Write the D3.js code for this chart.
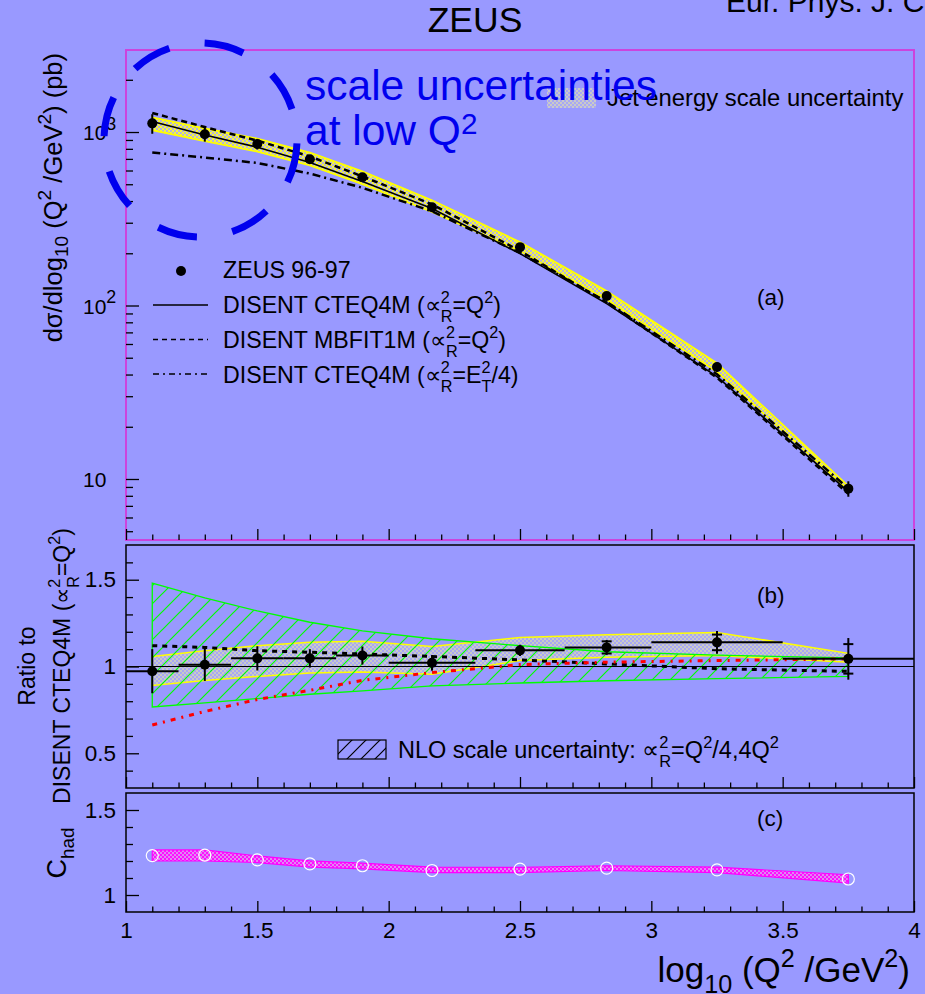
<!DOCTYPE html>
<html lang="en">
<head>
<meta charset="UTF-8">
<title>ZEUS dijet cross section vs Q2</title>
<script src="https://cdn.jsdelivr.net/npm/d3@7"></script>
<style>
  body { margin: 0; background: #9999ff; }
  svg { display: block; font-family: "Liberation Sans", Arial, Helvetica, sans-serif; }
</style>
</head>
<body>
<div id="chart"></div>
<script>
// bin centres and bin edges in log10(Q^2/GeV^2)
var xBins = [1.1, 1.3, 1.5, 1.7, 1.9, 2.165, 2.5, 2.83, 3.25, 3.75];
var binLo = [1.0, 1.2, 1.4, 1.6, 1.8, 2.0, 2.33, 2.67, 3.0, 3.5];
var binHi = [1.2, 1.4, 1.6, 1.8, 2.0, 2.33, 2.67, 3.0, 3.5, 4.0];

// (a) cross section, pb
var zeusSigma = [1122, 970, 853, 697, 548, 368, 217, 113.5, 44.2, 8.8];
var zeusSigmaErr = [145, 90, 60, 37, 29, 16, 7, 4.5, 2.7, 0.9];
var disentCteq = [1150, 962, 818, 668, 518, 362, 199, 102.5, 38.9, 8.45];
var disentMbfit = [1288, 1068, 892, 723, 555, 383, 206.6, 104, 38.4, 8.21];
var disentCteqEt = [762, 713, 663, 576, 477, 349, 201, 105, 40.2, 8.82];
var jesUp = [1216, 1050, 916, 761, 593, 404, 232, 121, 46.5, 9.1];
var jesDown = [1025, 885, 771, 643, 501, 346, 206, 108, 41.4, 8.66];

// (b) ratio to DISENT CTEQ4M (mu_R^2 = Q^2)
var ratioZeus = [0.973, 1.01, 1.047, 1.047, 1.063, 1.021, 1.093, 1.11, 1.139, 1.044];
var ratioErr = [0.127, 0.093, 0.07, 0.053, 0.052, 0.045, 0.033, 0.043, 0.065, 0.12];
var ratioStat = [0, 0, 0, 0, 0, 0, 0, 0.035, 0.045, 0.085];
var ratioMbfit = [1.12, 1.11, 1.091, 1.082, 1.072, 1.058, 1.038, 1.015, 0.987, 0.972];
var ratioEt = [0.663, 0.741, 0.81, 0.863, 0.92, 0.965, 1.011, 1.025, 1.034, 1.044];
var nloUp = [1.48, 1.395, 1.32, 1.255, 1.205, 1.16, 1.12, 1.085, 1.065, 1.05];
var nloDown = [0.767, 0.79, 0.815, 0.84, 0.86, 0.888, 0.905, 0.918, 0.93, 0.943];
var jesRatioUp = [1.057, 1.091, 1.12, 1.139, 1.145, 1.115, 1.167, 1.183, 1.196, 1.076];
var jesRatioDown = [0.891, 0.92, 0.943, 0.962, 0.968, 0.955, 1.034, 1.053, 1.063, 1.025];

// (c) hadronisation correction
var cHad = [1.232, 1.235, 1.207, 1.183, 1.172, 1.144, 1.152, 1.158, 1.148, 1.094];
var cHadUp = [1.265, 1.265, 1.23, 1.201, 1.187, 1.164, 1.162, 1.172, 1.164, 1.119];
var cHadDown = [1.2, 1.2, 1.191, 1.164, 1.154, 1.132, 1.132, 1.144, 1.132, 1.07];

// axis ticks
var xMajor = [1, 1.5, 2, 2.5, 3, 3.5, 4];
var yMajorA = [10, 100, 1000];
var yLabelA = ['10', '10|2', '10|3'];
var yMajorB = [0.5, 1, 1.5];
var yMajorC = [1, 1.5];

var width = 925, height = 994;
var X0 = 126, X1 = 914;

var svg = d3.select('#chart').append('svg')
    .attr('width', width)
    .attr('height', height);

svg.append('rect').attr('width', width).attr('height', height).attr('fill', '#9999ff');

var defs = svg.append('defs');

function checker(id, base, dot, size) {
    var p = defs.append('pattern').attr('id', id)
        .attr('patternUnits', 'userSpaceOnUse')
        .attr('width', size * 2).attr('height', size * 2);
    p.append('rect').attr('width', size * 2).attr('height', size * 2).attr('fill', base);
    p.append('rect').attr('width', size).attr('height', size).attr('fill', dot);
    p.append('rect').attr('x', size).attr('y', size).attr('width', size).attr('height', size).attr('fill', dot);
}
checker('chkYellow', '#f8f838', '#b4b4e0', 2);
checker('chkGrey', '#cacac8', '#a8a8f4', 2);
checker('chkMag', '#ff10ff', '#e088f4', 2);

function hatch(id, colour, step) {
    defs.append('pattern').attr('id', id)
        .attr('patternUnits', 'userSpaceOnUse')
        .attr('width', step).attr('height', step)
        .append('path')
        .attr('d', 'M-2,2 L2,-2 M0,' + step + ' L' + step + ',0 M' + (step - 2) + ',' + (step + 2) + ' L' + (step + 2) + ',' + (step - 2))
        .attr('stroke', colour)
        .attr('stroke-width', 1.2);
}
hatch('hatchGreen', '#00ff00', 18);
hatch('hatchBlack', '#000', 14);

var x = d3.scaleLinear().domain([1, 4]).range([X0, X1]);
var yA = d3.scaleLog().domain([4.45, 2970]).range([540, 50]);
var yB = d3.scaleLinear().domain([0.3, 1.7]).range([788, 545]);
var yC = d3.scaleLinear().domain([0.9, 1.6]).range([912, 793]);

// text with sub / superscripts; parts: [text] | [text,'sup'] | [text,'sub'] | [[sup,sub],'stack']
function rich(txt, parts, fs, o) {
    o = Object.assign({ sc: 0.7, up: 0.42, dn: 0.25, sw: 0.39 }, o || {});
    var off = 0;
    parts.forEach(function (p) {
        var s = p[0], m = p[1];
        if (!m) {
            txt.append('tspan').attr('dy', -off).style('font-size', fs + 'px').text(s);
            off = 0;
        } else if (m === 'sup' || m === 'sub') {
            var d = m === 'sup' ? -o.up * fs : o.dn * fs;
            txt.append('tspan').attr('dy', d - off).style('font-size', o.sc * fs + 'px').text(s);
            off = d;
        } else {
            var u = -o.up * fs, b = (o.dn + 0.12) * fs;
            txt.append('tspan').attr('dy', u - off).style('font-size', o.sc * fs + 'px').text(s[0]);
            txt.append('tspan').attr('dx', -o.sw * fs).attr('dy', b - u).style('font-size', o.sc * fs + 'px').text(s[1]);
            off = b;
        }
    });
    return txt;
}

function minorsOf(lo, hi, step, majors) {
    return d3.range(lo, hi + step / 2, step)
        .map(function (v) { return +v.toFixed(4); })
        .filter(function (v) { return majors.indexOf(v) < 0; });
}

function leftAxis(scale, majors, minors, fmt) {
    var g = svg.append('g').attr('transform', 'translate(' + X0 + ',0)').attr('color', '#000');
    g.append('g').call(d3.axisLeft(scale).tickValues(minors).tickSize(-7).tickFormat(''));
    g.append('g').call(d3.axisLeft(scale).tickValues(majors).tickSize(-13).tickPadding(10).tickFormat(fmt));
    g.selectAll('.domain').remove();
    g.selectAll('line').attr('stroke-width', 1.3);
    g.selectAll('text').attr('font-size', 22.5).attr('font-family', null);
    return g;
}

function bottomAxis(yPos, labels) {
    var g = svg.append('g').attr('transform', 'translate(0,' + yPos + ')').attr('color', '#000');
    g.append('g').call(d3.axisBottom(x).tickValues(minorsOf(1, 4, 0.1, xMajor)).tickSize(-5.5).tickFormat(''));
    g.append('g').call(d3.axisBottom(x).tickValues(xMajor).tickSize(-11).tickPadding(10)
        .tickFormat(labels ? d3.format('~g') : ''));
    g.selectAll('.domain').remove();
    g.selectAll('line').attr('stroke-width', 1.3);
    g.selectAll('text').attr('font-size', 22.5).attr('font-family', null);
    return g;
}

var lineOf = function (scale) {
    return d3.line().x(function (d, i) { return x(xBins[i]); }).y(function (d) { return scale(d); });
};
var areaOf = function (scale, lo) {
    return d3.area()
        .x(function (d, i) { return x(xBins[i]); })
        .y0(function (d, i) { return scale(lo[i]); })
        .y1(function (d) { return scale(d); });
};

// ---------- panel (a) ----------
var pa = svg.append('g');
pa.append('path').datum(jesUp)
    .attr('d', areaOf(yA, jesDown))
    .attr('fill', 'url(#chkYellow)')
    .attr('stroke', '#ffff00').attr('stroke-width', 1.8);

pa.append('path').datum(disentCteqEt).attr('d', lineOf(yA))
    .attr('fill', 'none').attr('stroke', '#000').attr('stroke-width', 2.5).attr('stroke-dasharray', '8,4,2,4');
pa.append('path').datum(disentMbfit).attr('d', lineOf(yA))
    .attr('fill', 'none').attr('stroke', '#000').attr('stroke-width', 2.5).attr('stroke-dasharray', '6,4');
pa.append('path').datum(disentCteq).attr('d', lineOf(yA))
    .attr('fill', 'none').attr('stroke', '#000').attr('stroke-width', 1.6);

pa.selectAll('.errA').data(zeusSigma).enter().append('line')
    .attr('x1', function (d, i) { return x(xBins[i]); })
    .attr('x2', function (d, i) { return x(xBins[i]); })
    .attr('y1', function (d, i) { return yA(d + zeusSigmaErr[i]); })
    .attr('y2', function (d, i) { return yA(d - zeusSigmaErr[i]); })
    .attr('stroke', '#000').attr('stroke-width', 2);
pa.selectAll('.ptA').data(zeusSigma).enter().append('circle')
    .attr('cx', function (d, i) { return x(xBins[i]); })
    .attr('cy', function (d) { return yA(d); })
    .attr('r', 5).attr('fill', '#000');

pa.append('rect').attr('x', X0).attr('y', 50).attr('width', X1 - X0).attr('height', 490)
    .attr('fill', 'none').attr('stroke', '#cc44dd').attr('stroke-width', 2);

var minorA = [];
[1, 10, 100, 1000].forEach(function (dec) {
    d3.range(2, 10).forEach(function (k) {
        var v = k * dec;
        if (v > 4.45 && v < 2970) minorA.push(v);
    });
});
leftAxis(yA, yMajorA, minorA, function () { return ''; });
yMajorA.forEach(function (v, i) {
    var parts = yLabelA[i].split('|');
    var t = svg.append('text').attr('x', 83).attr('y', yA(v) + 8).attr('font-size', 21);
    var segs = [[parts[0]]];
    if (parts[1]) segs.push([parts[1], 'sup']);
    rich(t, segs, 21, { sc: 0.85, up: 0.48 });
});
bottomAxis(540, false);

// legend (a)
var legA = svg.append('g');
legA.append('circle').attr('cx', 181).attr('cy', 271).attr('r', 5).attr('fill', '#000');
legA.append('line').attr('x1', 153).attr('x2', 208).attr('y1', 305).attr('y2', 305)
    .attr('stroke', '#000').attr('stroke-width', 1.6);
legA.append('line').attr('x1', 153).attr('x2', 208).attr('y1', 339.5).attr('y2', 339.5)
    .attr('stroke', '#000').attr('stroke-width', 1.6).attr('stroke-dasharray', '5,4');
legA.append('line').attr('x1', 153).attr('x2', 208).attr('y1', 374).attr('y2', 374)
    .attr('stroke', '#000').attr('stroke-width', 1.6).attr('stroke-dasharray', '6,4,2,4');

var legTexts = [
    [['ZEUS 96-97']],
    [['DISENT CTEQ4M ('], ['\u221d'], [['2', 'R'], 'stack'], ['=Q'], ['2', 'sup'], [')']],
    [['DISENT MBFIT1M ('], ['\u221d'], [['2', 'R'], 'stack'], ['=Q'], ['2', 'sup'], [')']],
    [['DISENT CTEQ4M ('], ['\u221d'], [['2', 'R'], 'stack'], ['=E'], [['2', 'T'], 'stack'], ['/4)']]
];
legTexts.forEach(function (parts, i) {
    var t = legA.append('text').attr('x', 223).attr('y', 278 + i * 35);
    rich(t, parts, 23.2);
});

legA.append('rect').attr('x', 547).attr('y', 88).attr('width', 49).attr('height', 20)
    .attr('fill', 'url(#chkGrey)');
legA.append('text').attr('x', 607).attr('y', 106).style('font-size', '23.8px')
    .text('Jet energy scale uncertainty');

svg.append('text').attr('x', 757).attr('y', 305).style('font-size', '22.5px').text('(a)');

var tA = svg.append('text').attr('text-anchor', 'end')
    .attr('transform', 'translate(62,53) rotate(-90)');
rich(tA, [['d\u03c3/dlog'], ['10', 'sub'], [' (Q'], ['2', 'sup'], [' /GeV'], ['2', 'sup'], [') (pb)']], 25.5, { sc: 0.75 });

// ---------- panel (b) ----------
var pb = svg.append('g');
pb.append('path').datum(jesRatioUp)
    .attr('d', areaOf(yB, jesRatioDown))
    .attr('fill', 'url(#chkGrey)')
    .attr('stroke', '#ffff00').attr('stroke-width', 1.5);
pb.append('path').datum(nloUp)
    .attr('d', areaOf(yB, nloDown))
    .attr('fill', 'url(#hatchGreen)')
    .attr('stroke', '#00ff00').attr('stroke-width', 1.3);

pb.append('line').attr('x1', X0).attr('x2', X1).attr('y1', yB(1)).attr('y2', yB(1))
    .attr('stroke', '#000').attr('stroke-width', 1.2);
pb.append('path').datum(ratioMbfit).attr('d', lineOf(yB))
    .attr('fill', 'none').attr('stroke', '#000').attr('stroke-width', 3).attr('stroke-dasharray', '5,5');
pb.append('path').datum(ratioEt).attr('d', lineOf(yB))
    .attr('fill', 'none').attr('stroke', '#ff0000').attr('stroke-width', 3).attr('stroke-dasharray', '5,6,2,6');

pb.selectAll('.hb').data(ratioZeus).enter().append('line')
    .attr('x1', function (d, i) { return x(binLo[i]); })
    .attr('x2', function (d, i) { return x(binHi[i]); })
    .attr('y1', function (d) { return yB(d); })
    .attr('y2', function (d) { return yB(d); })
    .attr('stroke', '#000').attr('stroke-width', 2);
pb.selectAll('.vb').data(ratioZeus).enter().append('line')
    .attr('x1', function (d, i) { return x(xBins[i]); })
    .attr('x2', function (d, i) { return x(xBins[i]); })
    .attr('y1', function (d, i) { return yB(d + ratioErr[i]); })
    .attr('y2', function (d, i) { return yB(d - ratioErr[i]); })
    .attr('stroke', '#000').attr('stroke-width', 2);
ratioZeus.forEach(function (d, i) {
    if (!ratioStat[i]) return;
    [d + ratioStat[i], d - ratioStat[i]].forEach(function (v) {
        pb.append('line').attr('x1', x(xBins[i]) - 5).attr('x2', x(xBins[i]) + 5)
            .attr('y1', yB(v)).attr('y2', yB(v)).attr('stroke', '#000').attr('stroke-width', 2);
    });
});
pb.selectAll('.pb').data(ratioZeus).enter().append('circle')
    .attr('cx', function (d, i) { return x(xBins[i]); })
    .attr('cy', function (d) { return yB(d); })
    .attr('r', 5).attr('fill', '#000');

pb.append('rect').attr('x', X0).attr('y', 545).attr('width', X1 - X0).attr('height', 243)
    .attr('fill', 'none').attr('stroke', '#000').attr('stroke-width', 1.5);
leftAxis(yB, yMajorB, minorsOf(0.4, 1.6, 0.1, yMajorB), d3.format('~g'));
bottomAxis(788, false);

svg.append('rect').attr('x', 338).attr('y', 740).attr('width', 48).attr('height', 19)
    .attr('fill', 'url(#hatchBlack)').attr('stroke', '#000').attr('stroke-width', 1.2);
rich(svg.append('text').attr('x', 398).attr('y', 758),
    [['NLO scale uncertainty: \u221d'], [['2', 'R'], 'stack'], ['=Q'], ['2', 'sup'], ['/4,4Q'], ['2', 'sup']], 23.5);
svg.append('text').attr('x', 757).attr('y', 603).style('font-size', '22.5px').text('(b)');

svg.append('text').attr('text-anchor', 'middle')
    .attr('transform', 'translate(35,666) rotate(-90)')
    .style('font-size', '23px').text('Ratio to');
rich(svg.append('text').attr('text-anchor', 'middle').attr('transform', 'translate(70,666) rotate(-90)'),
    [['DISENT CTEQ4M ('], ['\u221d'], [['2', 'R'], 'stack'], ['=Q'], ['2', 'sup'], [')']], 23);

// ---------- panel (c) ----------
var pc = svg.append('g');
pc.append('path').datum(cHadUp)
    .attr('d', areaOf(yC, cHadDown))
    .attr('fill', 'url(#chkMag)')
    .attr('stroke', '#ff00ff').attr('stroke-width', 1.2);
pc.selectAll('.pc').data(cHad).enter().append('circle')
    .attr('cx', function (d, i) { return x(xBins[i]); })
    .attr('cy', function (d) { return yC(d); })
    .attr('r', 6).attr('fill', 'none').attr('stroke', '#fff').attr('stroke-width', 1.2);

pc.append('rect').attr('x', X0).attr('y', 793).attr('width', X1 - X0).attr('height', 119)
    .attr('fill', 'none').attr('stroke', '#000').attr('stroke-width', 1.5);
leftAxis(yC, yMajorC, minorsOf(1.1, 1.4, 0.1, yMajorC), d3.format('~g'));
bottomAxis(912, true);

svg.append('text').attr('x', 757).attr('y', 826).style('font-size', '22.5px').text('(c)');
rich(svg.append('text').attr('text-anchor', 'middle').attr('transform', 'translate(66,853) rotate(-90)'),
    [['C'], ['had', 'sub']], 27, { dn: 0.28 });

rich(svg.append('text').attr('text-anchor', 'end').attr('x', 910).attr('y', 982),
    [['log'], ['10', 'sub'], [' (Q'], ['2', 'sup'], [' /GeV'], ['2', 'sup'], [')']], 35, { sc: 0.72, dn: 0.3 });

// ---------- titles and annotation ----------
svg.append('text').attr('x', 475).attr('y', 32).attr('text-anchor', 'middle')
    .style('font-size', '35.5px').text('ZEUS');
svg.append('text').attr('x', 726).attr('y', 12)
    .style('font-size', '30px').text('Eur. Phys. J. C');

var note = svg.append('g').attr('fill', '#0000ee');
note.append('text').attr('x', 305).attr('y', 100).style('font-size', '42.5px').text('scale uncertainties');
rich(note.append('text').attr('x', 305).attr('y', 145), [['at low Q'], ['2', 'sup']], 42.5, { up: 0.25 });

var cx = 200.5, cy = 140, rx = 96.5, ry = 97;
note.append('path')
    .attr('d', 'M' + (cx + rx) + ',' + cy +
        ' A' + rx + ',' + ry + ' 0 1 1 ' + (cx - rx) + ',' + cy +
        ' A' + rx + ',' + ry + ' 0 1 1 ' + (cx + rx) + ',' + cy)
    .attr('fill', 'none').attr('stroke', '#0000ee').attr('stroke-width', 7)
    .attr('stroke-dasharray', '40,36').attr('stroke-dashoffset', -3.4);
</script>
</body>
</html>
